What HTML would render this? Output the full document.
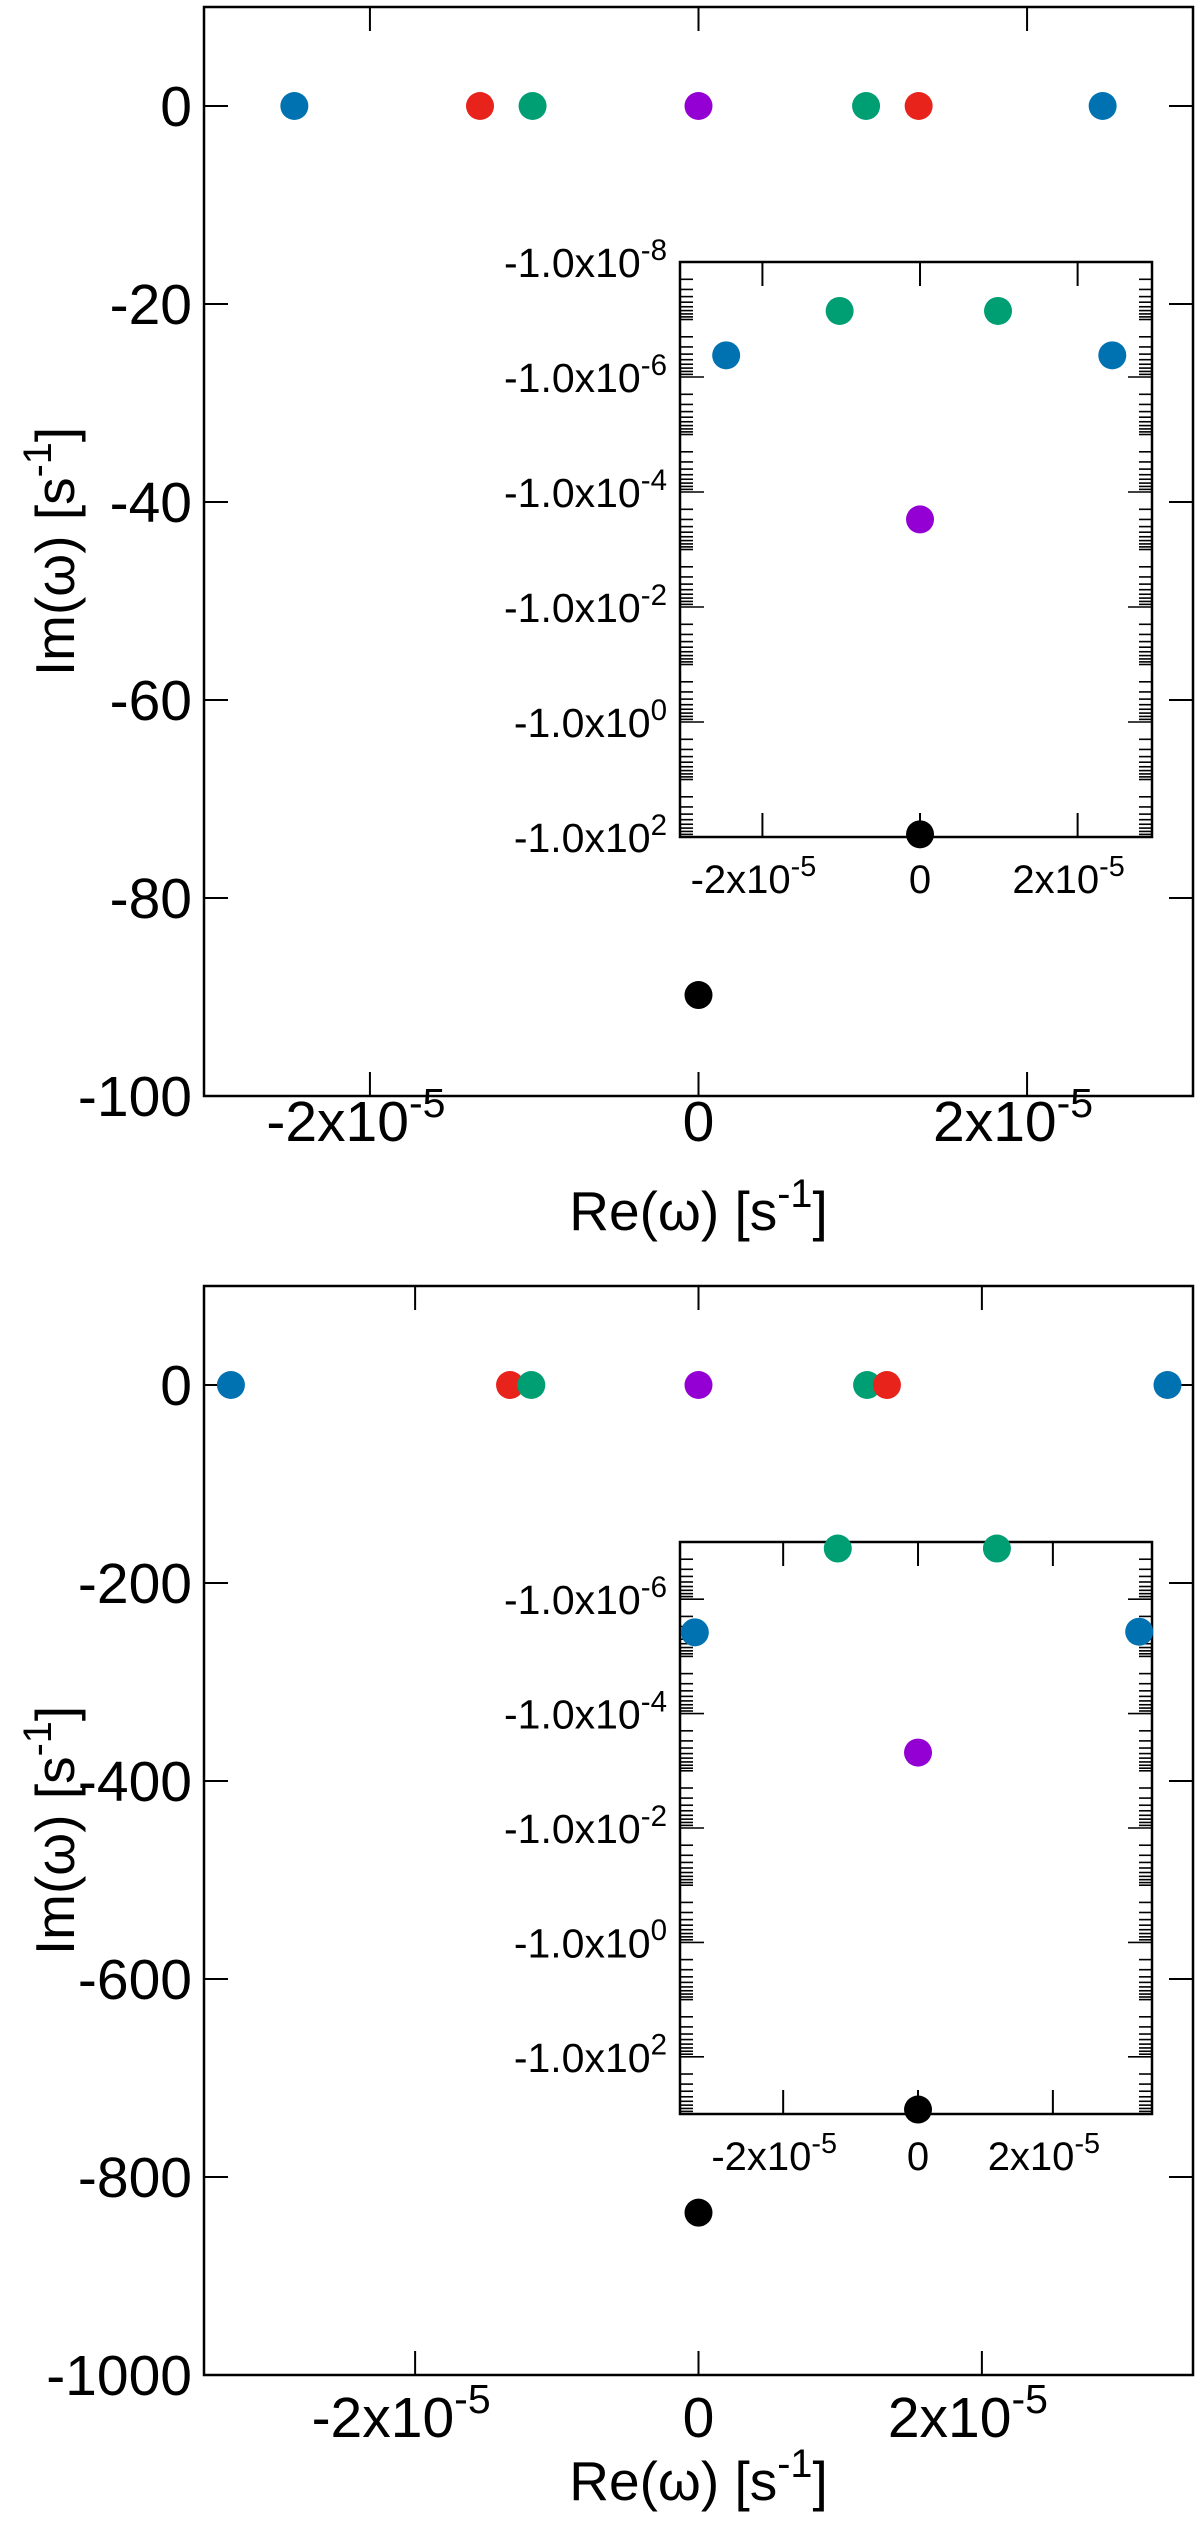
<!DOCTYPE html>
<html><head><meta charset="utf-8"><style>
html,body{margin:0;padding:0;background:#fff}
svg{display:block}
text{font-family:"Liberation Sans",Arial,sans-serif;fill:#000}
</style></head><body>
<svg id="fig" width="1200" height="2529" viewBox="0 0 1200 2529" xmlns="http://www.w3.org/2000/svg"></svg>
<script>
// ---- data: panel 1 (linear main plot) ----
const p1Re = [-2.46e-5, -1.33e-5, -1.01e-5, 0, 1.02e-5, 1.34e-5, 2.46e-5, 0];
const p1Im = [0, 0, 0, 0, 0, 0, 0, -89.8];
const p1Col = ['blue','red','green','purple','green','red','blue','black'];
// panel 1 inset (log magnitude of -Im)
const i1Re = [-2.46e-5, -1.02e-5, 0, 0.99e-5, 2.44e-5, 0];
const i1Mag = [4.2e-7, 7.1e-8, 3.0e-4, 7.1e-8, 4.2e-7, 89.8];
const i1Col = ['blue','green','purple','green','blue','black'];
// ---- panel 2 ----
const p2Re = [-3.30e-5, -1.33e-5, -1.18e-5, 0, 1.19e-5, 1.33e-5, 3.31e-5, 0];
const p2Im = [0, 0, 0, 0, 0, 0, 0, -836];
const p2Col = ['blue','red','green','purple','green','red','blue','black'];
const i2Re = [-3.31e-5, -1.19e-5, 0, 1.17e-5, 3.28e-5, 0];
const i2Mag = [3.8e-6, 1.3e-7, 4.8e-4, 1.3e-7, 3.7e-6, 836];
const i2Col = ['blue','green','purple','green','blue','black'];
// ticks
const mainXTicks = [-2e-5, 0, 2e-5];
const p1YTicks = [0, -20, -40, -60, -80, -100];
const p2YTicks = [0, -200, -400, -600, -800, -1000];
const inset1Labels = [-8, -6, -4, -2, 0, 2];
const inset2Labels = [-6, -4, -2, 0, 2];

const COLORS = {blue:'#0072b2', red:'#e8231b', green:'#009e73', purple:'#9400d3', black:'#000000'};
const NS = 'http://www.w3.org/2000/svg';
const svg = document.getElementById('fig');

function el(tag, attrs, parent){
  const e = document.createElementNS(NS, tag);
  for (const k in attrs) e.setAttribute(k, attrs[k]);
  (parent||svg).appendChild(e);
  return e;
}
function line(x1,y1,x2,y2,w,parent,name){
  const l = el('line',{x1:x1,y1:y1,x2:x2,y2:y2,stroke:'#000','stroke-width':w},parent);
  
  
  return l;
}
function lin(d0,d1,r0,r1){return v => r0 + (v-d0)/(d1-d0)*(r1-r0);}
function sciLabel(parent, x, y, mant, exp, size, anchor, name){
  const t = el('text',{x:x,y:y,'font-size':size,'text-anchor':anchor},parent);
  
  
  t.appendChild(document.createTextNode(mant));
  if (exp !== null){
    const s = el('tspan',{dy:-size*0.42,'font-size':size*0.72},t);
    s.textContent = exp;
  }
  return t;
}

function mainPanel(cfg){
  const g = el('g',{});
  
  
  const X = lin(cfg.xd[0],cfg.xd[1],cfg.L,cfg.R);
  const Y = lin(cfg.yd[0],cfg.yd[1],cfg.B,cfg.T);
  const fr = el('rect',{x:cfg.L,y:cfg.T,width:cfg.R-cfg.L,height:cfg.B-cfg.T,fill:'none',stroke:'#000','stroke-width':2.5},g);
  
  
  cfg.xticks.forEach(v=>{
    const x = X(v);
    line(x,cfg.B,x,cfg.B-24,2,g,'x-tick');
    line(x,cfg.T,x,cfg.T+24,2,g,'x-tick-top');
    if (v===0) sciLabel(g,x,cfg.xlabY,'0',null,57,'middle','x-tick-label');
    else sciLabel(g,x-14,cfg.xlabY,(v<0?'-2':'2')+'x10','-5',57,'middle','x-tick-label');
  });
  cfg.yticks.forEach(v=>{
    const y = Y(v);
    line(cfg.L,y,cfg.L+24,y,2,g,'y-tick');
    line(cfg.R,y,cfg.R-24,y,2,g,'y-tick-right');
    const t = el('text',{x:192,y:y+20,'font-size':57,'text-anchor':'end'},g);
    
    
    t.textContent = String(v);
  });
  const xt = sciLabel(g,(cfg.L+cfg.R)/2,cfg.xtitleY,'Re(ω) [s','-1',55,'middle','x-axis-title');
  const br = el('tspan',{dy:55*0.42,'font-size':55},xt); br.textContent=']';
  const cy = (cfg.T+cfg.B)/2;
  const yt = sciLabel(g,0,0,'Im(ω) [s','-1',55,'middle','y-axis-title');
  yt.setAttribute('transform','translate(74,'+cy+') rotate(-90)');
  const br2 = el('tspan',{dy:55*0.42,'font-size':55},yt); br2.textContent=']';
  cfg.re.forEach((r,i)=>{
    const c = el('circle',{cx:X(r),cy:Y(cfg.im[i]),r:14,fill:COLORS[cfg.col[i]]},g);
    
    
  });
}

function insetPanel(cfg){
  const g = el('g',{});
  
  
  const X = lin(cfg.xd[0],cfg.xd[1],cfg.L,cfg.R);
  const Y = lin(cfg.ld[0],cfg.ld[1],cfg.T,cfg.B);
  const bg = el('rect',{x:cfg.L,y:cfg.T,width:cfg.R-cfg.L,height:cfg.B-cfg.T,fill:'#fff',stroke:'#000','stroke-width':2.5},g);
  
  
  mainXTicks.forEach(v=>{
    const x = X(v);
    line(x,cfg.B,x,cfg.B-24,2,g,'inset-x-tick');
    line(x,cfg.T,x,cfg.T+24,2,g,'inset-x-tick-top');
    if (v===0) sciLabel(g,x,cfg.B+56,'0',null,40,'middle','inset-x-tick-label');
    else sciLabel(g,x-9,cfg.B+56,(v<0?'-2':'2')+'x10','-5',40,'middle','inset-x-tick-label');
  });
  for (let d=Math.floor(cfg.ld[0]); d<cfg.ld[1]; d++){
    for (let j=1;j<=9;j++){
      const lv = d+Math.log10(j);
      if (lv < cfg.ld[0]-1e-6 || lv > cfg.ld[1]+1e-6) continue;
      const y = Y(lv);
      const major = (j===1 && ((d%2)+2)%2===0);
      const len = major?24:13;
      line(cfg.L,y,cfg.L+len,y,1.6,g,'inset-y-tick');
      line(cfg.R,y,cfg.R-len,y,1.6,g,'inset-y-tick-right');
    }
  }
  cfg.labels.forEach(e=>{
    sciLabel(g,667,Y(e)+15,'-1.0x10',String(e),41,'end','inset-y-tick-label');
  });
  // fix: anchor end with tspan works for whole text
  cfg.re.forEach((r,i)=>{
    const c = el('circle',{cx:X(r),cy:Y(Math.log10(cfg.mag[i])),r:14,fill:COLORS[cfg.col[i]]},g);
    
    
  });
}

mainPanel({name:'top-panel',L:204,R:1193,T:7,B:1096,xd:[-3.01e-5,3.01e-5],yd:[-100,10],
  xticks:mainXTicks,yticks:p1YTicks,xlabY:1141,xtitleY:1230,re:p1Re,im:p1Im,col:p1Col});
insetPanel({name:'top-inset',L:680,R:1152,T:262,B:837,xd:[-3.046e-5,2.944e-5],ld:[-8,2],
  labels:inset1Labels,re:i1Re,mag:i1Mag,col:i1Col});
mainPanel({name:'bottom-panel',L:204,R:1193,T:1286,B:2375,xd:[-3.49e-5,3.49e-5],yd:[-1000,100],
  xticks:mainXTicks,yticks:p2YTicks,xlabY:2437,xtitleY:2500,re:p2Re,im:p2Im,col:p2Col});
insetPanel({name:'bottom-inset',L:680,R:1152,T:1542,B:2114,xd:[-3.53e-5,3.47e-5],ld:[-7,3],
  labels:inset2Labels,re:i2Re,mag:i2Mag,col:i2Col});
</script>
</body></html>
